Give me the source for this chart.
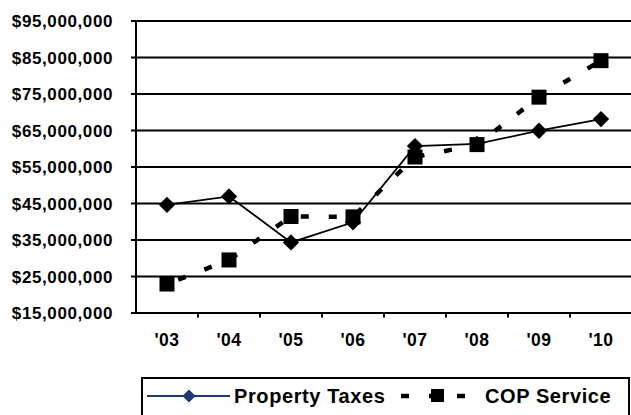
<!DOCTYPE html>
<html>
<head>
<meta charset="utf-8">
<script src="https://cdn.jsdelivr.net/npm/d3@7"></script>
<style>
  body { margin: 0; background: #fff; }
  svg text { font-family: "Liberation Sans", Arial, sans-serif; font-weight: bold; fill: #000; }
</style>
</head>
<body>
<div id="chart"></div>
<script>
// data
var years = ["'03", "'04", "'05", "'06", "'07", "'08", "'09", "'10"];
var property_taxes = [44.5, 46.8, 34.2, 39.7, 60.6, 61.2, 64.8, 68.0];
var cop_service = [22.8, 29.4, 41.3, 41.2, 57.6, 61.0, 74.0, 84.0];
var y_ticks = [15, 25, 35, 45, 55, 65, 75, 85, 95];

var chart_width = 631;
var chart_height = 415;
var m = { left: 136, right: 632, top: 20.5, bottom: 312.5 };

var svg = d3
  .select('#chart')
  .append('svg')
  .attr('width', chart_width)
  .attr('height', chart_height);

var x_scale = d3
  .scaleBand()
  .domain(years)
  .range([m.left, m.right]);

var y_scale = d3
  .scaleLinear()
  .domain([15, 95])
  .range([m.bottom, m.top]);

var fmt = function(d) {
  return '$' + d3.format(',')(d * 1000000);
};

// gridlines + y axis
var y_axis = d3
  .axisLeft(y_scale)
  .tickValues(y_ticks)
  .tickFormat(fmt)
  .tickSize(-(m.right - m.left))
  .tickPadding(23);

var gy = svg
  .append('g')
  .attr('transform', 'translate(' + m.left + ',0)')
  .call(y_axis);
gy.select('.domain').remove();
gy.selectAll('.tick line')
  .attr('x1', -5)
  .attr('stroke', '#000')
  .attr('stroke-width', 2);
gy.selectAll('.tick text')
  .attr('font-size', 17)
  .attr('letter-spacing', 0.6)
  .attr('dy', '0.36em');

// left axis line
svg
  .append('line')
  .attr('x1', m.left)
  .attr('x2', m.left)
  .attr('y1', m.top)
  .attr('y2', m.bottom)
  .attr('stroke', '#000')
  .attr('stroke-width', 2);

// x axis ticks between categories
var gx = svg.append('g');
gx.selectAll('line')
  .data(years)
  .enter()
  .append('line')
  .attr('x1', function(d) {
    return x_scale(d) + x_scale.bandwidth();
  })
  .attr('x2', function(d) {
    return x_scale(d) + x_scale.bandwidth();
  })
  .attr('y1', m.bottom)
  .attr('y2', m.bottom + 5)
  .attr('stroke', '#000')
  .attr('stroke-width', 2);
gx.selectAll('text')
  .data(years)
  .enter()
  .append('text')
  .text(function(d) {
    return d;
  })
  .attr('x', function(d) {
    return x_scale(d) + x_scale.bandwidth() / 2;
  })
  .attr('y', 346)
  .attr('font-size', 17.5)
  .attr('letter-spacing', 0.5)
  .attr('text-anchor', 'middle');

var cx = function(d, i) {
  return x_scale(years[i]) + x_scale.bandwidth() / 2;
};

// COP Service - thick dashed line with squares
var line_gen = d3
  .line()
  .x(cx)
  .y(function(d) {
    return y_scale(d);
  });

svg
  .append('path')
  .datum(cop_service)
  .attr('d', line_gen)
  .attr('fill', 'none')
  .attr('stroke', '#000')
  .attr('stroke-width', 4.5)
  .attr('stroke-dasharray', '8,20')
  .attr('stroke-dashoffset', -12);

svg
  .selectAll('rect.cop')
  .data(cop_service)
  .enter()
  .append('rect')
  .attr('class', 'cop')
  .attr('x', function(d, i) {
    return cx(d, i) - 7.5;
  })
  .attr('y', function(d) {
    return y_scale(d) - 7.5;
  })
  .attr('width', 15)
  .attr('height', 15)
  .attr('fill', '#000');

// Property Taxes - thin solid line with diamonds
svg
  .append('path')
  .datum(property_taxes)
  .attr('d', line_gen)
  .attr('fill', 'none')
  .attr('stroke', '#000')
  .attr('stroke-width', 1.8);

var diamond = d3.symbol().type(d3.symbolDiamond2).size(170);
svg
  .selectAll('path.pt')
  .data(property_taxes)
  .enter()
  .append('path')
  .attr('class', 'pt')
  .attr('d', diamond)
  .attr('transform', function(d, i) {
    return 'translate(' + cx(d, i) + ',' + y_scale(d) + ')';
  })
  .attr('fill', '#000');

// legend
var lg = svg.append('g');
lg.append('rect')
  .attr('x', 142)
  .attr('y', 378)
  .attr('width', 487)
  .attr('height', 45)
  .attr('fill', '#fff')
  .attr('stroke', '#000')
  .attr('stroke-width', 2);

lg.append('line')
  .attr('x1', 147)
  .attr('x2', 230)
  .attr('y1', 396)
  .attr('y2', 396)
  .attr('stroke', '#1f3a70')
  .attr('stroke-width', 1.8);
lg.append('path')
  .attr('d', d3.symbol().type(d3.symbolDiamond2).size(110))
  .attr('transform', 'translate(189,396)')
  .attr('fill', '#1f3a70');
lg.append('text')
  .text('Property Taxes')
  .attr('x', 234)
  .attr('y', 403)
  .attr('font-size', 20)
  .attr('letter-spacing', 0.6);

lg.append('line')
  .attr('x1', 401)
  .attr('x2', 470)
  .attr('y1', 396)
  .attr('y2', 396)
  .attr('stroke', '#000')
  .attr('stroke-width', 4.5)
  .attr('stroke-dasharray', '8,20');
lg.append('rect')
  .attr('x', 431)
  .attr('y', 389)
  .attr('width', 13)
  .attr('height', 13)
  .attr('fill', '#000');
lg.append('text')
  .text('COP Service')
  .attr('x', 485)
  .attr('y', 403)
  .attr('font-size', 20)
  .attr('letter-spacing', 0.6);
</script>
</body>
</html>
